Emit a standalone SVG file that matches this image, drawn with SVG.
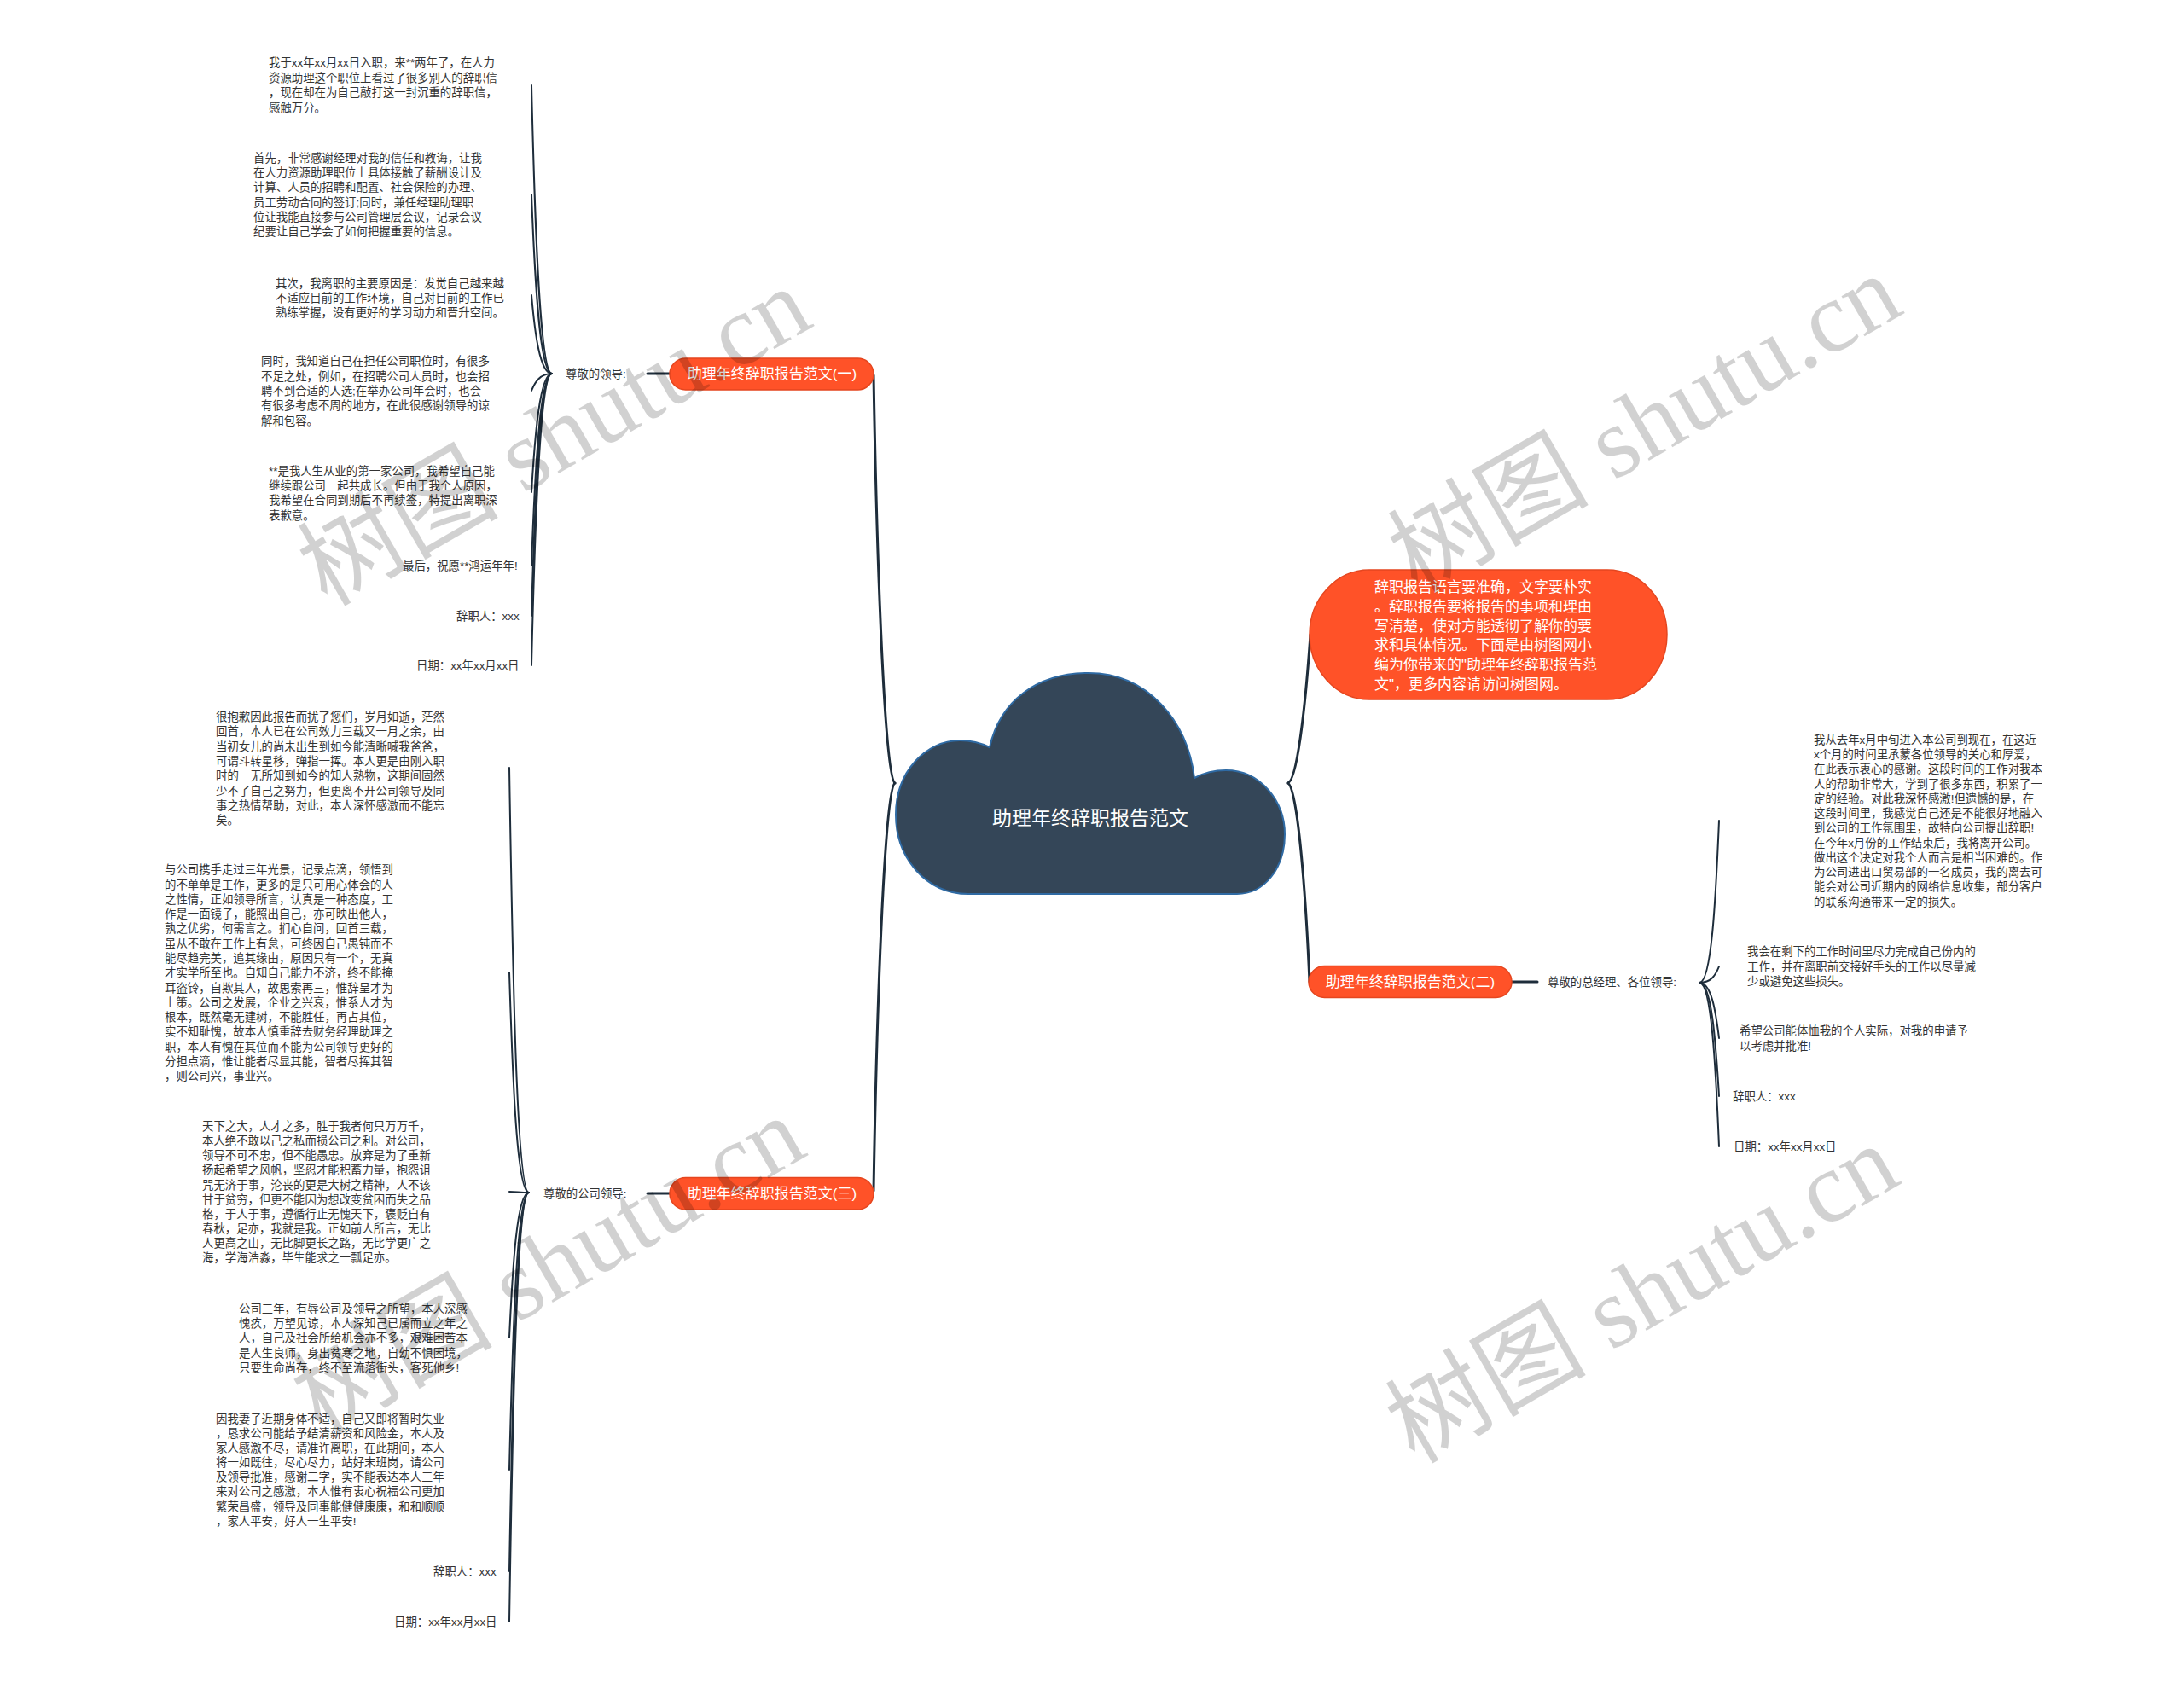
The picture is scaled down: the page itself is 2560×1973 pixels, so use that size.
<svg xmlns="http://www.w3.org/2000/svg" width="2560" height="1973" viewBox="0 0 2560 1973">
<style>
.t{font-family:"Liberation Sans","Noto Sans CJK SC",sans-serif;font-size:13.4px;fill:#333333}
.w{font-family:"Liberation Sans","Noto Sans CJK SC",sans-serif;fill:#ffffff}
.pill{fill:#ff5228;stroke:#e5461f;stroke-width:1.5}
.c{fill:none;stroke:#1e2d3b;stroke-width:2;stroke-linecap:round}
.m{fill:none;stroke:#1e2d3b;stroke-width:3;stroke-linecap:round}
.wm{font-family:"Liberation Serif","Noto Sans CJK SC",serif;font-size:118px;fill:#000000;fill-opacity:0.18}
</style>
<rect width="2560" height="1973" fill="#ffffff"/>
<g id="connectors">
<path class="m" d="M1049,918 C1038,918 1028,679 1024,440"/>
<path class="m" d="M1049,918 C1038,918 1028,1158 1024,1396"/>
<path class="m" d="M1509,918 C1520,918 1530,831 1536,744"/>
<path class="m" d="M1509,918 C1520,918 1530,1035 1535,1151"/>
<path class="m" d="M759,438 L785,438"/>
<path class="m" d="M759,1399 L785,1399"/>
<path class="m" d="M1772,1151 L1802,1151"/>
<path class="c" d="M647,438 C633,438 627,269 623,100"/>
<path class="c" d="M647,438 C633,438 627,333 623,228"/>
<path class="c" d="M647,438 C633,438 627,392 623,346"/>
<path class="c" d="M647,438 C633,438 627,448 623,458"/>
<path class="c" d="M647,438 C633,438 627,508 623,577"/>
<path class="c" d="M647,438 C633,438 627,551 623,663"/>
<path class="c" d="M647,438 C633,438 627,580 623,722"/>
<path class="c" d="M647,438 C633,438 627,609 623,780"/>
<path class="c" d="M620,1398 C606,1398 601,1149 597,900"/>
<path class="c" d="M620,1398 C606,1398 601,1269 597,1140"/>
<path class="c" d="M620,1398 C610,1398 605,1397 597,1397"/>
<path class="c" d="M620,1398 C606,1398 601,1483 597,1568"/>
<path class="c" d="M620,1398 C606,1398 601,1560 597,1723"/>
<path class="c" d="M620,1398 C606,1398 601,1620 597,1842"/>
<path class="c" d="M620,1398 C606,1398 601,1649 597,1901"/>
<path class="c" d="M1992,1152 C2006,1152 2011,1057 2015,962"/>
<path class="c" d="M1992,1152 C2006,1152 2011,1143 2015,1133"/>
<path class="c" d="M1992,1152 C2006,1152 2011,1185 2015,1217"/>
<path class="c" d="M1992,1152 C2006,1152 2011,1219 2015,1285"/>
<path class="c" d="M1992,1152 C2006,1152 2011,1248 2015,1344"/>
</g>
<g id="root">
<path d="M1135,1048 C1085,1048 1050,1005 1050,955 C1050,905 1085,868 1125,868 C1140,868 1152,872 1160,876 C1172,822 1215,789 1276,789 C1345,789 1392,845 1400,912 C1411,906 1423,903 1437,903 C1478,903 1506,940 1506,978 C1506,1018 1482,1048 1450,1048 Z" fill="#344658" stroke="#2f6aa3" stroke-width="2"/>
<text class="w" x="1278" y="966.5" font-size="23" text-anchor="middle">助理年终辞职报告范文</text>
</g>
<g id="intro">
<rect x="1535" y="668" width="419" height="152" rx="70" ry="76" class="pill"/>
<text class="w" font-size="17" x="1611" y="694"><tspan x="1611">辞职报告语言要准确，文字要朴实</tspan><tspan x="1611" dy="22.8">。辞职报告要将报告的事项和理由</tspan><tspan x="1611" dy="22.8">写清楚，使对方能透彻了解你的要</tspan><tspan x="1611" dy="22.8">求和具体情况。下面是由树图网小</tspan><tspan x="1611" dy="22.8">编为你带来的"助理年终辞职报告范</tspan><tspan x="1611" dy="22.8">文"，更多内容请访问树图网。</tspan></text>
</g>
<g id="branch1">
<rect x="785" y="420" width="239" height="37" rx="18.5" class="pill"/>
<text class="w" font-size="17" x="905" y="444" text-anchor="middle">助理年终辞职报告范文(一)</text>
</g>
<g id="label1"><text class="t" x="663" y="443">尊敬的领导:</text></g>
<g id="b1-1"><text class="t" x="315" y="78"><tspan x="315">我于xx年xx月xx日入职，来**两年了，在人力</tspan><tspan x="315" dy="17.5">资源助理这个职位上看过了很多别人的辞职信</tspan><tspan x="315" dy="17.5">，现在却在为自己敲打这一封沉重的辞职信，</tspan><tspan x="315" dy="17.5">感触万分。</tspan></text></g>
<g id="b1-2"><text class="t" x="297" y="190"><tspan x="297">首先，非常感谢经理对我的信任和教诲，让我</tspan><tspan x="297" dy="17.2">在人力资源助理职位上具体接触了薪酬设计及</tspan><tspan x="297" dy="17.2">计算、人员的招聘和配置、社会保险的办理、</tspan><tspan x="297" dy="17.2">员工劳动合同的签订;同时，兼任经理助理职</tspan><tspan x="297" dy="17.2">位让我能直接参与公司管理层会议，记录会议</tspan><tspan x="297" dy="17.2">纪要让自己学会了如何把握重要的信息。</tspan></text></g>
<g id="b1-3"><text class="t" x="323" y="336.7"><tspan x="323">其次，我离职的主要原因是：发觉自己越来越</tspan><tspan x="323" dy="17.3">不适应目前的工作环境，自己对目前的工作已</tspan><tspan x="323" dy="17.3">熟练掌握，没有更好的学习动力和晋升空间。</tspan></text></g>
<g id="b1-4"><text class="t" x="306" y="428.3"><tspan x="306">同时，我知道自己在担任公司职位时，有很多</tspan><tspan x="306" dy="17.3">不足之处，例如，在招聘公司人员时，也会招</tspan><tspan x="306" dy="17.3">聘不到合适的人选;在举办公司年会时，也会</tspan><tspan x="306" dy="17.3">有很多考虑不周的地方，在此很感谢领导的谅</tspan><tspan x="306" dy="17.3">解和包容。</tspan></text></g>
<g id="b1-5"><text class="t" x="315" y="556.7"><tspan x="315">**是我人生从业的第一家公司，我希望自己能</tspan><tspan x="315" dy="17.3">继续跟公司一起共成长。但由于我个人原因，</tspan><tspan x="315" dy="17.3">我希望在合同到期后不再续签，特提出离职深</tspan><tspan x="315" dy="17.3">表歉意。</tspan></text></g>
<g id="b1-6"><text class="t" x="472" y="667.7">最后，祝愿**鸿运年年!</text></g>
<g id="b1-7"><text class="t" x="535" y="726.7">辞职人：xxx</text></g>
<g id="b1-8"><text class="t" x="488" y="785">日期：xx年xx月xx日</text></g>
<g id="branch3">
<rect x="785" y="1380.5" width="239" height="37.5" rx="18.7" class="pill"/>
<text class="w" font-size="17" x="905" y="1405" text-anchor="middle">助理年终辞职报告范文(三)</text>
</g>
<g id="label3"><text class="t" x="637" y="1404">尊敬的公司领导:</text></g>
<g id="b3-1"><text class="t" x="253" y="845"><tspan x="253">很抱歉因此报告而扰了您们，岁月如逝，茫然</tspan><tspan x="253" dy="17.3">回首，本人已在公司效力三载又一月之余，由</tspan><tspan x="253" dy="17.3">当初女儿的尚未出生到如今能清晰喊我爸爸，</tspan><tspan x="253" dy="17.3">可谓斗转星移，弹指一挥。本人更是由刚入职</tspan><tspan x="253" dy="17.3">时的一无所知到如今的知人熟物，这期间固然</tspan><tspan x="253" dy="17.3">少不了自己之努力，但更离不开公司领导及同</tspan><tspan x="253" dy="17.3">事之热情帮助，对此，本人深怀感激而不能忘</tspan><tspan x="253" dy="17.3">矣。</tspan></text></g>
<g id="b3-2"><text class="t" x="193" y="1024.3"><tspan x="193">与公司携手走过三年光景，记录点滴，领悟到</tspan><tspan x="193" dy="17.28">的不单单是工作，更多的是只可用心体会的人</tspan><tspan x="193" dy="17.28">之性情，正如领导所言，认真是一种态度，工</tspan><tspan x="193" dy="17.28">作是一面镜子，能照出自己，亦可映出他人，</tspan><tspan x="193" dy="17.28">孰之优劣，何需言之。扪心自问，回首三载，</tspan><tspan x="193" dy="17.28">虽从不敢在工作上有怠，可终因自己愚钝而不</tspan><tspan x="193" dy="17.28">能尽趋完美，追其缘由，原因只有一个，无真</tspan><tspan x="193" dy="17.28">才实学所至也。自知自己能力不济，终不能掩</tspan><tspan x="193" dy="17.28">耳盗铃，自欺其人，故思索再三，惟辞呈才为</tspan><tspan x="193" dy="17.28">上策。公司之发展，企业之兴衰，惟系人才为</tspan><tspan x="193" dy="17.28">根本，既然毫无建树，不能胜任，再占其位，</tspan><tspan x="193" dy="17.28">实不知耻愧，故本人慎重辞去财务经理助理之</tspan><tspan x="193" dy="17.28">职，本人有愧在其位而不能为公司领导更好的</tspan><tspan x="193" dy="17.28">分担点滴，惟让能者尽显其能，智者尽挥其智</tspan><tspan x="193" dy="17.28">，则公司兴，事业兴。</tspan></text></g>
<g id="b3-3"><text class="t" x="237" y="1325"><tspan x="237">天下之大，人才之多，胜于我者何只万万千，</tspan><tspan x="237" dy="17.15">本人绝不敢以己之私而损公司之利。对公司，</tspan><tspan x="237" dy="17.15">领导不可不忠，但不能愚忠。放弃是为了重新</tspan><tspan x="237" dy="17.15">扬起希望之风帆，坚忍才能积蓄力量，抱怨诅</tspan><tspan x="237" dy="17.15">咒无济于事，沦丧的更是大树之精神，人不该</tspan><tspan x="237" dy="17.15">甘于贫穷，但更不能因为想改变贫困而失之品</tspan><tspan x="237" dy="17.15">格，于人于事，遵循行止无愧天下，褒贬自有</tspan><tspan x="237" dy="17.15">春秋，足亦，我就是我。正如前人所言，无比</tspan><tspan x="237" dy="17.15">人更高之山，无比脚更长之路，无比学更广之</tspan><tspan x="237" dy="17.15">海，学海浩淼，毕生能求之一瓢足亦。</tspan></text></g>
<g id="b3-4"><text class="t" x="280" y="1539"><tspan x="280">公司三年，有辱公司及领导之所望，本人深感</tspan><tspan x="280" dy="17.2">愧疚，万望见谅，本人深知己已属而立之年之</tspan><tspan x="280" dy="17.2">人，自己及社会所给机会亦不多，艰难困苦本</tspan><tspan x="280" dy="17.2">是人生良师，身出贫寒之地，自幼不惧困境，</tspan><tspan x="280" dy="17.2">只要生命尚存，终不至流落街头，客死他乡!</tspan></text></g>
<g id="b3-5"><text class="t" x="253" y="1667.7"><tspan x="253">因我妻子近期身体不适，自己又即将暂时失业</tspan><tspan x="253" dy="17.15">，恳求公司能给予结清薪资和风险金，本人及</tspan><tspan x="253" dy="17.15">家人感激不尽，请准许离职，在此期间，本人</tspan><tspan x="253" dy="17.15">将一如既往，尽心尽力，站好末班岗，请公司</tspan><tspan x="253" dy="17.15">及领导批准，感谢二字，实不能表达本人三年</tspan><tspan x="253" dy="17.15">来对公司之感激，本人惟有衷心祝福公司更加</tspan><tspan x="253" dy="17.15">繁荣昌盛，领导及同事能健健康康，和和顺顺</tspan><tspan x="253" dy="17.15">，家人平安，好人一生平安!</tspan></text></g>
<g id="b3-6"><text class="t" x="508" y="1846.7">辞职人：xxx</text></g>
<g id="b3-7"><text class="t" x="462" y="1905.7">日期：xx年xx月xx日</text></g>
<g id="branch2">
<rect x="1534" y="1132.5" width="238" height="37" rx="18.5" class="pill"/>
<text class="w" font-size="17" x="1653" y="1157" text-anchor="middle">助理年终辞职报告范文(二)</text>
</g>
<g id="label2"><text class="t" x="1814" y="1156">尊敬的总经理、各位领导:</text></g>
<g id="b2-1"><text class="t" x="2126" y="871.7"><tspan x="2126">我从去年x月中旬进入本公司到现在，在这近</tspan><tspan x="2126" dy="17.27">x个月的时间里承蒙各位领导的关心和厚爱，</tspan><tspan x="2126" dy="17.27">在此表示衷心的感谢。这段时间的工作对我本</tspan><tspan x="2126" dy="17.27">人的帮助非常大，学到了很多东西，积累了一</tspan><tspan x="2126" dy="17.27">定的经验。对此我深怀感激!但遗憾的是，在</tspan><tspan x="2126" dy="17.27">这段时间里，我感觉自己还是不能很好地融入</tspan><tspan x="2126" dy="17.27">到公司的工作氛围里，故特向公司提出辞职!</tspan><tspan x="2126" dy="17.27">在今年x月份的工作结束后，我将离开公司。</tspan><tspan x="2126" dy="17.27">做出这个决定对我个人而言是相当困难的。作</tspan><tspan x="2126" dy="17.27">为公司进出口贸易部的一名成员，我的离去可</tspan><tspan x="2126" dy="17.27">能会对公司近期内的网络信息收集，部分客户</tspan><tspan x="2126" dy="17.27">的联系沟通带来一定的损失。</tspan></text></g>
<g id="b2-2"><text class="t" x="2048" y="1120"><tspan x="2048">我会在剩下的工作时间里尽力完成自己份内的</tspan><tspan x="2048" dy="17.7">工作，并在离职前交接好手头的工作以尽量减</tspan><tspan x="2048" dy="17.7">少或避免这些损失。</tspan></text></g>
<g id="b2-3"><text class="t" x="2039" y="1213.3"><tspan x="2039">希望公司能体恤我的个人实际，对我的申请予</tspan><tspan x="2039" dy="17.7">以考虑并批准!</tspan></text></g>
<g id="b2-4"><text class="t" x="2031" y="1290">辞职人：xxx</text></g>
<g id="b2-5"><text class="t" x="2032" y="1349.3">日期：xx年xx月xx日</text></g>
<g id="watermarks">
<text class="wm" x="383" y="712" transform="rotate(-30 383 712)">树图 shutu.cn</text>
<text class="wm" x="1661" y="697" transform="rotate(-30 1661 697)">树图 shutu.cn</text>
<text class="wm" x="376" y="1684" transform="rotate(-30 376 1684)">树图 shutu.cn</text>
<text class="wm" x="1658" y="1717" transform="rotate(-30 1658 1717)">树图 shutu.cn</text>
</g>
</svg>
